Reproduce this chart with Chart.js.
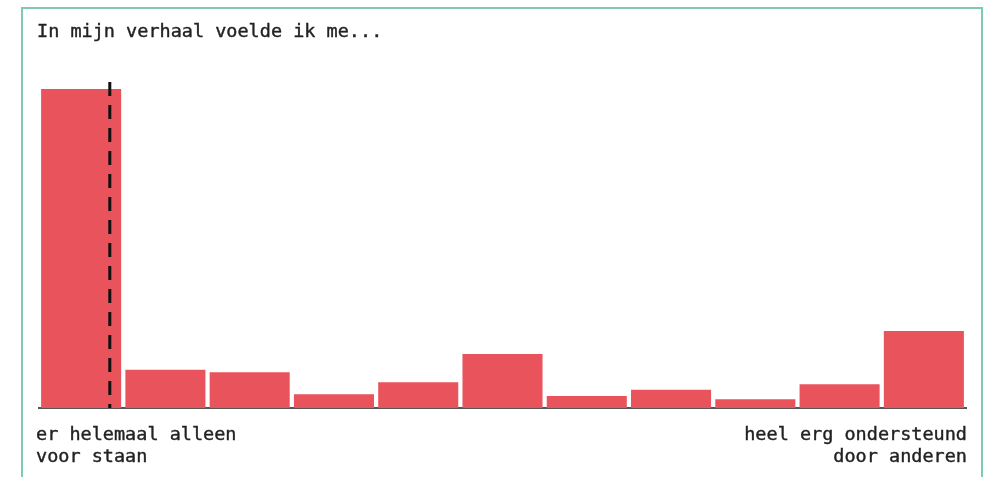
<!DOCTYPE html>
<html>
<head>
<meta charset="utf-8">
<script src="https://cdn.jsdelivr.net/npm/chart.js@4"></script>
<style>
    html, body { margin: 0; padding: 0; background: #fff; overflow: hidden; }
    body { width: 991px; height: 477px; position: relative; font-family: "DejaVu Sans Mono", monospace; color: #222; }
    .frame { position: absolute; left: 21px; top: 7px; width: 962px; height: 520px; border: 2px solid #7ccab1; box-sizing: border-box; }
    #chart { position: absolute; left: 0; top: 0; }
    .txt { position: absolute; font-size: 18.5px; line-height: 22px; white-space: pre; -webkit-text-stroke: 0.4px #222; }
    .title { left: 37px; top: 20px; }
    .left-label { left: 36px; top: 423px; }
    .right-label { right: 24px; top: 423px; text-align: right; }
</style>
</head>
<body>
<div class="frame"></div>
<canvas id="chart" width="991" height="477"></canvas>
<div class="txt title">In mijn verhaal voelde ik me...</div>
<div class="txt left-label">er helemaal alleen
voor staan</div>
<div class="txt right-label">heel erg ondersteund
door anderen</div>
<script>
// schaal 1..11, aandeel in procenten (geschat uit de afbeelding)
const categories = ['1', '2', '3', '4', '5', '6', '7', '8', '9', '10', '11'];
const shares = [50.9, 6.1, 5.7, 2.2, 4.1, 8.6, 1.9, 2.9, 1.4, 3.8, 12.3];
// positie van de stippellijn op de categorie-as (index)
const markerValue = 0.34;

const markerLine = {
    id: 'markerLine',
    afterDatasetsDraw(chart) {
        const x = chart.scales.x.getPixelForValue(markerValue);
        const area = chart.chartArea;
        const ctx = chart.ctx;
        ctx.save();
        ctx.strokeStyle = '#111';
        ctx.lineWidth = 3;
        ctx.setLineDash([14, 9]);
        ctx.beginPath();
        ctx.moveTo(x, area.top);
        ctx.lineTo(x, area.bottom);
        ctx.stroke();
        ctx.restore();
    }
};

new Chart(document.getElementById('chart').getContext('2d'), {
    type: 'bar',
    data: {
        labels: categories,
        datasets: [{
            data: shares,
            backgroundColor: '#e9535b',
            borderWidth: 0,
            categoryPercentage: 1,
            barPercentage: 0.95
        }]
    },
    options: {
        responsive: false,
        animation: false,
        layout: { padding: { left: 39, right: 25, top: 82, bottom: 61 } },
        plugins: {
            legend: { display: false },
            tooltip: { enabled: false }
        },
        scales: {
            x: {
                grid: { display: false },
                ticks: { display: false },
                border: { display: true, color: '#555', width: 2 }
            },
            y: {
                display: false,
                min: 0,
                max: 52
            }
        }
    },
    plugins: [markerLine]
});
</script>
</body>
</html>
